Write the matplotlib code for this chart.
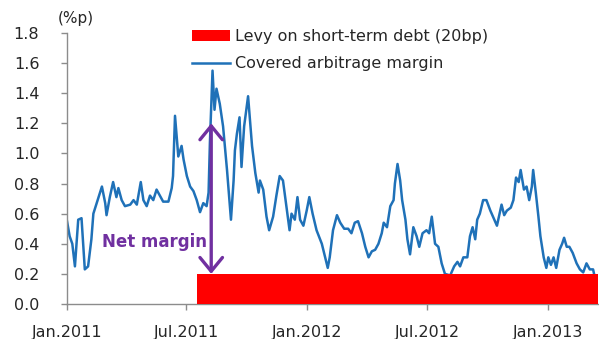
import matplotlib
matplotlib.use("Agg")
import matplotlib.pyplot as plt
import matplotlib.dates as mdates
import numpy as np
import pandas as pd

# Covered arbitrage margin (percentage points)
margin_dates = [
    "2011-01-01", "2011-01-05", "2011-01-09", "2011-01-13", "2011-01-18", "2011-01-23",
    "2011-01-28", "2011-02-02", "2011-02-07", "2011-02-10", "2011-02-15", "2011-02-23",
    "2011-02-28", "2011-03-02", "2011-03-07", "2011-03-12", "2011-03-17", "2011-03-20",
    "2011-03-25", "2011-03-30", "2011-04-07", "2011-04-12", "2011-04-17", "2011-04-23",
    "2011-04-27", "2011-05-02", "2011-05-07", "2011-05-12", "2011-05-17", "2011-05-22",
    "2011-05-27", "2011-06-04", "2011-06-09", "2011-06-11", "2011-06-14", "2011-06-19",
    "2011-06-24", "2011-06-27", "2011-07-02", "2011-07-07", "2011-07-12", "2011-07-17",
    "2011-07-22", "2011-07-27", "2011-08-01", "2011-08-04", "2011-08-06", "2011-08-10",
    "2011-08-13", "2011-08-16", "2011-08-21", "2011-08-26", "2011-09-01", "2011-09-07",
    "2011-09-11", "2011-09-13", "2011-09-16", "2011-09-20", "2011-09-23", "2011-09-27",
    "2011-10-03", "2011-10-09", "2011-10-14", "2011-10-19", "2011-10-21", "2011-10-26",
    "2011-10-31", "2011-11-04", "2011-11-10", "2011-11-15", "2011-11-20", "2011-11-25",
    "2011-12-01", "2011-12-05", "2011-12-08", "2011-12-13", "2011-12-17", "2011-12-21",
    "2011-12-26", "2011-12-31", "2012-01-04", "2012-01-09", "2012-01-15", "2012-01-23",
    "2012-01-28", "2012-02-01", "2012-02-04", "2012-02-09", "2012-02-15", "2012-02-20",
    "2012-02-26", "2012-03-03", "2012-03-08", "2012-03-13", "2012-03-18", "2012-03-24",
    "2012-03-29", "2012-04-03", "2012-04-08", "2012-04-13", "2012-04-18", "2012-04-23",
    "2012-04-26", "2012-05-01", "2012-05-06", "2012-05-11", "2012-05-13", "2012-05-17",
    "2012-05-21", "2012-05-24", "2012-05-29", "2012-06-01", "2012-06-05", "2012-06-10",
    "2012-06-15", "2012-06-19", "2012-06-24", "2012-06-30", "2012-07-04", "2012-07-08",
    "2012-07-13", "2012-07-18", "2012-07-23", "2012-07-28", "2012-08-05", "2012-08-11",
    "2012-08-16", "2012-08-20", "2012-08-25", "2012-08-31", "2012-09-04", "2012-09-08",
    "2012-09-12", "2012-09-15", "2012-09-19", "2012-09-24", "2012-09-29", "2012-10-05",
    "2012-10-10", "2012-10-15", "2012-10-19", "2012-10-22", "2012-10-26", "2012-10-30",
    "2012-11-05", "2012-11-09", "2012-11-13", "2012-11-17", "2012-11-20", "2012-11-25",
    "2012-11-29", "2012-12-03", "2012-12-07", "2012-12-09", "2012-12-13", "2012-12-17",
    "2012-12-20", "2012-12-25", "2012-12-29", "2013-01-01", "2013-01-05", "2013-01-09",
    "2013-01-13", "2013-01-18", "2013-01-22", "2013-01-25", "2013-01-29", "2013-02-02",
    "2013-02-07", "2013-02-13", "2013-02-18", "2013-02-23", "2013-02-28", "2013-03-05",
    "2013-03-10", "2013-03-12",
]
margin_values = [
    0.55, 0.45, 0.40, 0.25, 0.56, 0.57,
    0.23, 0.25, 0.43, 0.60, 0.67, 0.78,
    0.67, 0.59, 0.71, 0.81, 0.71, 0.77,
    0.69, 0.65, 0.66, 0.69, 0.66, 0.81,
    0.69, 0.65, 0.72, 0.69, 0.76, 0.72,
    0.68, 0.68, 0.77, 0.85, 1.25, 0.98,
    1.05, 0.96, 0.85, 0.78, 0.75, 0.69,
    0.61, 0.67, 0.65, 0.74, 1.07, 1.55,
    1.29, 1.43, 1.33, 1.18, 0.89, 0.56,
    0.82, 1.02, 1.13, 1.24, 0.91, 1.18,
    1.38, 1.05, 0.87, 0.74, 0.82, 0.76,
    0.58, 0.49, 0.58, 0.72, 0.85, 0.82,
    0.62, 0.49, 0.60, 0.56, 0.71, 0.56,
    0.52, 0.62, 0.71, 0.60, 0.49, 0.40,
    0.31, 0.24, 0.31, 0.49, 0.59, 0.54,
    0.50, 0.50, 0.47, 0.54, 0.55, 0.47,
    0.38, 0.31, 0.35, 0.36, 0.40, 0.47,
    0.54, 0.51, 0.65, 0.69, 0.80, 0.93,
    0.82, 0.69, 0.56, 0.43, 0.33, 0.51,
    0.45, 0.38, 0.47, 0.49, 0.47, 0.58,
    0.40, 0.38, 0.27, 0.20, 0.19, 0.25,
    0.28, 0.25, 0.31, 0.31, 0.45, 0.51,
    0.43, 0.56, 0.60, 0.69, 0.69, 0.62,
    0.57, 0.52, 0.60, 0.66, 0.59, 0.62,
    0.64, 0.69, 0.84, 0.81, 0.89, 0.76,
    0.78, 0.69, 0.78, 0.89, 0.74, 0.58,
    0.45, 0.31, 0.24, 0.31, 0.26, 0.31,
    0.24, 0.36, 0.40, 0.44, 0.38, 0.38,
    0.34, 0.27, 0.23, 0.21, 0.27, 0.23,
    0.23, 0.19,
]

# Levy on short-term debt: 20bp from its start to the end of the sample
levy_start = "2011-07-17"
levy_end = "2013-03-18"
levy_rate = 0.20

# Net margin arrow: from the levy level up to the margin level
arrow_date = "2011-08-08"
arrow_low = 0.20
arrow_high = 1.20
arrow_label_y = 0.41

x_start = "2011-01-01"
x_end = "2013-03-18"
tick_dates = ["2011-01-01", "2011-07-01", "2012-01-01", "2012-07-01", "2013-01-01"]
tick_labels = ["Jan.2011", "Jul.2011", "Jan.2012", "Jul.2012", "Jan.2013"]
y_ticks = [0.0, 0.2, 0.4, 0.6, 0.8, 1.0, 1.2, 1.4, 1.6, 1.8]

LINE_BLUE = "#1F71B8"
LEVY_RED = "#FF0000"
PURPLE = "#7030A0"
TEXT = "#262626"
AXIS_GRAY = "#8C8C8C"

plt.rcParams["font.family"] = ["DejaVu Sans"]

fig = plt.figure(figsize=(5.99, 3.39), dpi=100)
ax = fig.add_axes([0.1119, 0.1032, 0.887, 0.7995])

dates = pd.to_datetime(margin_dates)
ax.plot(dates, margin_values, color=LINE_BLUE, lw=1.8, zorder=2,
        label="Covered arbitrage margin", solid_joinstyle="round")

levy_x = pd.to_datetime([levy_start, levy_end])
ax.fill_between(levy_x, 0, levy_rate, color=LEVY_RED, lw=0, zorder=3,
                label="Levy on short-term debt (20bp)")

ad = pd.Timestamp(arrow_date)
ax.annotate("", xy=(ad, arrow_high), xytext=(ad, arrow_low),
            arrowprops=dict(arrowstyle="<->,head_length=0.55,head_width=0.45",
                            color=PURPLE, lw=2.4, mutation_scale=18,
                            shrinkA=0, shrinkB=0),
            zorder=4)
ax.annotate("Net margin", xy=(ad, arrow_label_y), xytext=(-3, 0),
            textcoords="offset points", ha="right", va="center",
            fontsize=12, fontweight="bold", color=PURPLE, zorder=4)

ax.set_xlim(pd.Timestamp(x_start), pd.Timestamp(x_end))
ax.set_ylim(0, 1.8)
ax.set_xticks(pd.to_datetime(tick_dates))
ax.set_xticklabels(tick_labels)
ax.set_yticks(y_ticks)
ax.set_yticklabels([f"{v:.1f}" for v in y_ticks])

for side in ("top", "right"):
    ax.spines[side].set_visible(False)
for side in ("left", "bottom"):
    ax.spines[side].set_color(AXIS_GRAY)
    ax.spines[side].set_linewidth(1.0)

ax.tick_params(axis="y", direction="out", length=4, width=1, color=AXIS_GRAY,
               pad=16, labelsize=11.5, labelcolor=TEXT)
ax.tick_params(axis="x", direction="out", length=4, width=1, color=AXIS_GRAY,
               pad=11, labelsize=11.5, labelcolor=TEXT)

fig.text(0.097, 0.946, "(%p)", fontsize=11, color=TEXT, va="center", ha="left")

handles, labels = ax.get_legend_handles_labels()
order = [1, 0]
leg = fig.legend([handles[i] for i in order], [labels[i] for i in order],
                 loc="upper left", bbox_to_anchor=(0.32, 0.914),
                 frameon=False, fontsize=11.5, handlelength=2.4,
                 handletextpad=0.3, labelspacing=0.75, borderpad=0,
                 borderaxespad=0)
for t in leg.get_texts():
    t.set_color(TEXT)

fig.savefig("out.png", dpi=100, facecolor="white")
